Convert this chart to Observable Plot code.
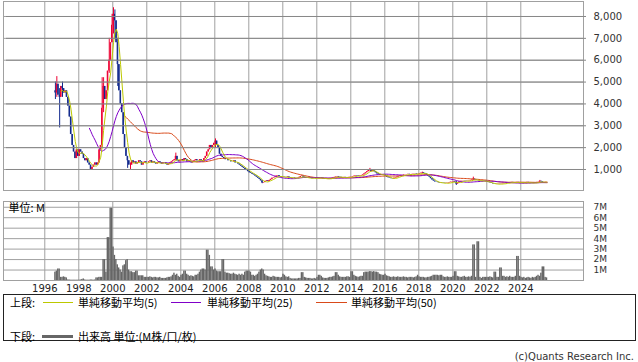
<!DOCTYPE html>
<html><head><meta charset="utf-8">
<script src="https://cdn.jsdelivr.net/npm/d3@7"></script>
<script src="https://cdn.jsdelivr.net/npm/@observablehq/plot@0.6"></script>
<style>
body{margin:0;background:#fff;}
#wrap{position:relative;width:638px;height:362px;overflow:hidden;font-family:"DejaVu Sans",sans-serif;background:#fff;}
.abs{position:absolute;}
.jp{position:absolute;font-family:"Noto Sans CJK JP","DejaVu Sans",sans-serif;font-size:11px;color:#000;line-height:14px;white-space:nowrap;}
.ln{position:absolute;height:1px;}
</style></head><body>
<div id="wrap">
<div id="price" class="abs" style="left:0;top:0;width:638px;height:191px;overflow:hidden"></div>
<div id="vol" class="abs" style="left:0;top:200px;width:638px;height:100px;overflow:hidden"></div>
<div class="abs" style="left:3px;top:294px;width:631px;height:45px;border:1px solid #222;background:#fff"></div>
<div class="jp" style="left:10px;top:295px">上段:</div>
<div class="ln" style="left:43px;width:30px;top:302px;background:#bcc800"></div>
<div class="jp" style="left:78px;top:295px">単純移動平均(5)</div>
<div class="ln" style="left:171px;width:30px;top:302px;background:#8000c8"></div>
<div class="jp" style="left:207px;top:295px">単純移動平均(25)</div>
<div class="ln" style="left:316px;width:31px;top:302px;background:#d94a1a"></div>
<div class="jp" style="left:351px;top:295px">単純移動平均(50)</div>
<div class="jp" style="left:10px;top:329px">下段:</div>
<div class="ln" style="left:42px;width:31px;top:335px;height:3px;background:#666"></div>
<div class="jp" style="left:78px;top:329px">出来高 単位:(M株/口/枚)</div>
<div class="abs" style="right:4px;top:351px;font-size:10px;color:#333;font-family:'DejaVu Sans',sans-serif;">(c)Quants Research Inc.</div>
</div>
<script>
// ---- data (monthly, starting Aug 1996) ----
const startYear = 1996, startMonth = 8;
const firstOpen = 4600;
const close = [
  4500, 4900, 4400, 4300, 4800,
  4700, 4500, 4600, 4300, 3900, 3400, 2600, 2100, 1800, 1500, 1900, 1600,
  1900, 1800, 1700, 1500, 1400, 1500, 1300, 1200, 1000, 1100, 1200, 1300,
  1200, 1300, 1900, 2100, 3800, 4800, 4200, 4600, 5500, 6000, 6800, 7600,
  8100, 7800, 6800, 5800, 4600, 4000, 3600, 2600, 2000, 1600, 1400, 1200,
  1200, 1400, 1300, 1350, 1250, 1300, 1400, 1350, 1200, 1300, 1350, 1300,
  1300, 1350, 1400, 1300, 1350, 1300, 1250, 1300, 1350, 1300, 1250, 1300,
  1300, 1250, 1200, 1250, 1300, 1350, 1400, 1450, 1600, 1400, 1350, 1400,
  1450, 1400, 1500, 1450, 1350, 1400, 1350, 1300, 1350, 1400, 1450, 1400,
  1400, 1450, 1400, 1350, 1500, 1600, 1800, 1900, 2100, 2000, 2100, 2200,
  2300, 2100, 2000, 1700, 1600, 1550, 1500, 1450, 1450, 1400, 1400, 1350,
  1350, 1400, 1300, 1300, 1250, 1200, 1150, 1100, 1050, 1000, 950, 900,
  850, 820, 780, 750, 700, 650, 600, 550, 480, 380, 400, 450,
  480, 450, 500, 550, 600, 620, 650, 700, 720, 680, 650, 640,
  650, 640, 630, 660, 620, 600, 610, 620, 600, 610, 620, 640,
  680, 700, 650, 620, 600, 610, 620, 600, 580, 590, 600, 610,
  600, 610, 620, 600, 580, 570, 560, 570, 580, 590, 600, 620,
  640, 660, 680, 650, 640, 620, 630, 640, 620, 630, 640, 650,
  660, 680, 700, 720, 700, 680, 700, 720, 750, 800, 850, 900,
  950, 1000, 900, 950, 900, 850, 800, 760, 740, 760, 750, 740,
  700, 650, 620, 600, 580, 570, 600, 620, 650, 680, 700, 720,
  730, 750, 760, 770, 780, 760, 770, 780, 790, 800, 780, 790,
  810, 830, 850, 820, 790, 750, 700, 650, 580, 520, 470, 430,
  420, 400, 380, 390, 380, 370, 360, 370, 380, 400, 420, 430,
  450, 420, 330, 380, 430, 460, 470, 480, 470, 460, 470, 480,
  500, 520, 560, 520, 500, 490, 480, 470, 480, 470, 460, 450,
  420, 400, 380, 360, 340, 330, 320, 330, 340, 330, 340, 350,
  360, 370, 380, 390, 400, 410, 400, 390, 400, 410, 400, 390,
  400, 390, 380, 400, 410, 390, 380, 370, 380, 390, 400, 410,
  420, 460, 430, 400, 410, 420, 430
];
const volume = [ // millions
  0.8, 0.9, 1.1, 1.1, 0.3,
  0.3, 0.35, 0.3, 0.25, 0.05, 0.05, 0.03, 0.03, 0.03, 0.03, 0.03, 0.03,
  0.03, 0.05, 0.1, 0.15, 0.05, 0.03, 0.03, 0.03, 0.05, 0.05, 0.03, 0.05,
  0.25, 0.25, 0.3, 0.3, 0.3, 2.0, 2.0, 0.8, 4.1, 4.1, 6.9, 6.9,
  3.2, 2.4, 2.0, 1.5, 1.2, 1.0, 0.8, 1.4, 1.5, 1.9, 2.0, 1.0,
  0.84, 0.84, 0.75, 0.75, 0.9, 0.9, 0.45, 0.45, 0.45, 0.45, 0.3, 0.3,
  0.3, 0.3, 0.35, 0.3, 0.25, 0.3, 0.3, 0.25, 0.25, 0.3, 0.2, 0.2,
  0.2, 0.2, 0.25, 0.3, 0.3, 0.35, 0.5, 0.7, 0.5, 0.6, 0.4, 0.3,
  0.5, 0.6, 0.9, 0.9, 0.6, 0.5, 0.4, 0.45, 0.4, 0.35, 0.5, 0.5,
  0.6, 0.8, 1.0, 1.1, 1.1, 1.0, 2.9, 2.9, 2.4, 1.3, 1.3, 1.0,
  1.1, 0.9, 0.84, 0.84, 0.84, 2.0, 2.0, 0.8, 0.7, 0.7, 0.65, 0.6,
  0.6, 0.7, 0.6, 0.55, 0.5, 0.6, 0.5, 0.6, 0.5, 0.8, 0.9, 0.9,
  0.9, 0.8, 0.5, 0.5, 0.4, 0.5, 0.6, 0.8, 1.0, 1.1, 1.0, 0.6,
  0.45, 0.4, 0.35, 0.3, 0.3, 0.4, 0.35, 0.3, 0.3, 0.3, 0.25, 0.3,
  0.6, 0.5, 0.35, 0.3, 0.35, 0.2, 0.15, 0.15, 0.15, 0.15, 0.15, 0.2,
  0.2, 0.75, 0.75, 0.3, 0.25, 0.2, 0.2, 0.2, 0.15, 0.15, 0.2, 0.15,
  0.3, 0.5, 0.5, 0.4, 0.25, 0.2, 0.2, 0.2, 0.25, 0.3, 0.3, 0.35,
  0.4, 0.75, 0.75, 0.5, 0.35, 0.3, 0.3, 0.3, 0.3, 0.35, 0.35, 0.3,
  0.84, 0.84, 0.5, 0.4, 0.35, 0.3, 0.35, 0.4, 0.4, 0.75, 0.8, 0.8,
  0.8, 0.85, 0.85, 0.8, 0.85, 0.8, 0.8, 0.75, 0.6, 0.55, 0.5, 0.5,
  0.6, 0.45, 0.4, 0.35, 0.3, 0.3, 0.35, 0.3, 0.3, 0.35, 0.3, 0.3,
  0.3, 0.35, 0.3, 0.3, 0.25, 0.3, 0.3, 0.3, 0.25, 0.3, 0.35, 0.5,
  0.35, 0.3, 0.3, 0.3, 0.25, 0.25, 0.3, 0.3, 0.35, 0.4, 0.5, 0.5,
  0.5, 0.5, 0.45, 0.5, 0.5, 0.35, 0.3, 0.3, 0.35, 0.3, 0.3, 0.3,
  0.4, 0.84, 0.84, 0.4, 0.35, 0.3, 0.3, 0.35, 0.4, 0.3, 0.3, 0.35,
  0.3, 0.4, 3.4, 3.4, 0.3, 3.7, 3.7, 0.3, 0.2, 0.3, 0.3, 0.3,
  0.3, 0.3, 0.35, 0.3, 0.25, 0.8, 0.8, 0.3, 0.3, 1.2, 1.2, 0.4,
  0.4, 0.3, 0.35, 0.3, 0.4, 0.3, 0.3, 0.3, 0.4, 2.3, 2.3, 0.4,
  0.3, 0.25, 0.3, 0.2, 0.25, 0.3, 0.25, 0.2, 0.3, 0.25, 0.3, 0.4,
  0.5, 0.4, 0.7, 1.3, 1.3, 0.3, 0.25
];
// intramonth extremes where visible: [month, low, high]
const wicks = [
  ["1996-08", 4200, 5000], ["1996-09", 4300, 5250], ["1996-11", 2900, 4700],
  ["1997-01", 4300, 5000], ["1999-05", 2000, 5200], ["1999-06", 3600, 5200],
  ["1999-10", 5400, 7000], ["1999-12", 6800, 8100], ["2000-01", 7200, 8400],
  ["2000-02", 7000, 8300], ["2000-04", 4800, 7000], ["2000-11", 1050, 1600],
  ["2001-01", 1000, 1300], ["2003-09", 1400, 1750], ["2006-01", 2000, 2400],
  ["2008-10", 350, 500], ["2015-02", 920, 1050], ["2018-03", 800, 880],
  ["2020-03", 270, 450], ["2021-03", 500, 650], ["2025-02", 420, 500]
];
const yearTicks = [1996, 1998, 2000, 2002, 2004, 2006, 2008, 2010, 2012, 2014, 2016, 2018, 2020, 2022, 2024];
const yearLabels = ["1996", "1998", "2000", "2002", "2004", "2006", "2008", "2010", "2012", "2014", "2016", "2018", "2020", "2022", "2024"];
const priceTicks = [1000, 2000, 3000, 4000, 5000, 6000, 7000, 8000];
const volTicks = [1, 2, 3, 4, 5, 6, 7];
const volTickLabels = ["1M", "2M", "3M", "4M", "5M", "6M", "7M"];

const RED = "#ee0033", BLUE = "#10288c", C5 = "#bcc800", C25 = "#8000c8", C50 = "#d94a1a";
const GRID = "#a0a0a0";

const wickMap = new Map(wicks.map(d => [d[0], d]));
const rows = close.map((c, i) => {
  const m0 = startMonth - 1 + i;
  const yr = startYear + Math.floor(m0 / 12), m = m0 % 12;
  const key = `${yr}-${String(m + 1).padStart(2, "0")}`;
  const open = i === 0 ? firstOpen : close[i - 1];
  const w = wickMap.get(key);
  return {
    t: yr + (m + 0.5) / 12,
    open, close: c,
    low: Math.min(open, c, w ? w[1] : Infinity),
    high: Math.max(open, c, w ? w[2] : -Infinity),
    up: c >= open,
    vol: volume[i]
  };
});
const ma = k => rows.map((d, i) => i >= k - 1 ? {t: d.t, v: d3.mean(close.slice(i - k + 1, i + 1))} : null).filter(Boolean);
const ma5 = ma(5), ma25 = ma(25), ma50 = ma(50);
const yearRows = yearTicks.map((y, i) => ({t: y, label: yearLabels[i]}));

const baseStyle = () => ({fontFamily: "DejaVu Sans, sans-serif", fontSize: "10px", color: "#333", background: "transparent"});

const price = Plot.plot({
  width: 638, height: 191, marginLeft: 3, marginRight: 55, marginTop: 1, marginBottom: 1,
  style: baseStyle(),
  x: {type: "linear", domain: [1993.571, 2027.688], axis: null, label: null},
  y: {domain: [39, 8686], axis: null, label: null},
  marks: [
    Plot.ruleX(yearTicks, {x: d => d, stroke: GRID}),
    Plot.ruleY(priceTicks, {y: d => d, stroke: GRID}),
    Plot.ruleX(rows, {x: "t", y1: "low", y2: "high", stroke: d => d.up ? RED : BLUE, strokeWidth: 1}),
    Plot.rect(rows, {x1: d => d.t - 0.035, x2: d => d.t + 0.035, y1: "open", y2: "close", fill: d => d.up ? RED : BLUE}),
    Plot.line(ma50, {x: "t", y: "v", stroke: C50, strokeWidth: 1}),
    Plot.line(ma25, {x: "t", y: "v", stroke: C25, strokeWidth: 1}),
    Plot.line(ma5, {x: "t", y: "v", stroke: C5, strokeWidth: 1}),
    Plot.frame({stroke: GRID}),
    Plot.tickY(priceTicks, {y: d => d, frameAnchor: "right", dx: 3, stroke: "#888"}),
    Plot.text(priceTicks, {y: d => d, text: d => d3.format(",")(d), frameAnchor: "right", dx: 10, textAnchor: "start", fill: "#333", fontSize: 10})
  ]
});
document.getElementById("price").append(price);

const vol = Plot.plot({
  width: 638, height: 100, marginLeft: 3, marginRight: 55, marginTop: 1, marginBottom: 20,
  style: baseStyle(),
  x: {type: "linear", domain: [1993.571, 2027.688], axis: null, label: null},
  y: {domain: [0, 7.55], axis: null, label: null},
  marks: [
    Plot.ruleX(yearTicks, {x: d => d, stroke: GRID}),
    Plot.ruleY(volTicks, {y: d => d, stroke: GRID}),
    Plot.rectY(rows, {x1: d => d.t - 1 / 24, x2: d => d.t + 1 / 24, y: "vol", fill: "#666"}),
    Plot.frame({stroke: GRID}),
    Plot.text(volTicks, {y: d => d, text: (d, i) => volTickLabels[i], frameAnchor: "right", dx: 10, textAnchor: "start", fill: "#333", fontSize: 9}),
    Plot.text(yearRows, {x: "t", text: "label", frameAnchor: "bottom", dy: 8, lineAnchor: "middle", fill: "#222", fontSize: 10}),
    Plot.text(["単位: M"], {frameAnchor: "top-left", dx: 5, dy: 3, textAnchor: "start", lineAnchor: "top", fontFamily: "Noto Sans CJK JP", fontSize: 11, fill: "#000"})
  ]
});
document.getElementById("vol").append(vol);
</script>
</body></html>
